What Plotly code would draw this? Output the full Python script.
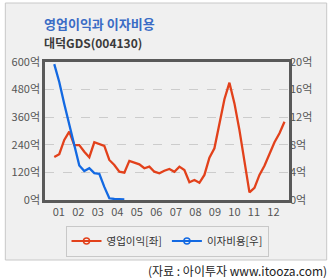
import plotly.graph_objects as go

# Quarterly data (2001 ~ 2012)
op_profit = [187, 199, 261, 297, 239, 239, 210, 186, 251, 243, 235, 174, 152, 123, 119, 170,
             162, 155, 138, 145, 123, 116, 127, 135, 123, 145, 130, 77, 87, 75, 109, 184,
             225, 333, 438, 510, 420, 304, 174, 33, 53, 109, 149, 199, 251, 290, 340]
interest = [19.7, 17.1, 13.9, 11.0, 8.3, 5.0, 4.2, 4.6, 3.9, 3.8, 1.9, 0.25, 0.15, 0.1, 0.1]
year_labels = ["01", "02", "03", "04", "05", "06", "07", "08", "09", "10", "11", "12"]
left_ticks = [0, 120, 240, 360, 480, 600]
right_ticks = [0, 4, 8, 12, 16, 20]

RED = "#e2411b"
BLUE = "#1369e2"
GRID = "#cccccc"
AX = "#595959"

xi_op = list(range(len(op_profit)))
xi_int = list(range(len(interest)))
tick_pos = [0.9 + 3.9 * k for k in range(len(year_labels))]

fig = go.Figure()
fig.add_trace(go.Scatter(x=xi_op, y=op_profit, mode="lines", line=dict(color=RED, width=2.3),
                         showlegend=False, yaxis="y"))
fig.add_trace(go.Scatter(x=xi_int, y=interest, mode="lines", line=dict(color=BLUE, width=2.3),
                         showlegend=False, yaxis="y2"))
# legend entries
fig.add_trace(go.Scatter(x=[None], y=[None], mode="lines+markers", name="영업이익[좌]",
                         line=dict(color=RED, width=2),
                         marker=dict(symbol="circle-open", size=6, color=RED, line=dict(width=1.5))))
fig.add_trace(go.Scatter(x=[None], y=[None], mode="lines+markers", name="이자비용[우]",
                         line=dict(color=BLUE, width=2),
                         marker=dict(symbol="circle-open", size=6, color=BLUE, line=dict(width=1.5))))

shapes = [
    # light gray panel
    dict(type="rect", xref="paper", yref="paper", x0=-40/246, x1=1+38/246, y0=-60/138, y1=1+59/138,
         fillcolor="#f0f0f0", line=dict(color="#c8c8c8", width=1), layer="below"),
    # alternating bands
    dict(type="rect", xref="paper", yref="y", x0=0, x1=1, y0=120, y1=240,
         fillcolor="#f0f0f0", line=dict(width=0), layer="below"),
    dict(type="rect", xref="paper", yref="y", x0=0, x1=1, y0=360, y1=480,
         fillcolor="#f0f0f0", line=dict(width=0), layer="below"),
]

fig.update_layout(
    width=331, height=278,
    margin=dict(l=43, r=42, t=62, b=78),
    paper_bgcolor="white", plot_bgcolor="white",
    font=dict(family="Noto Sans CJK KR, Noto Sans, sans-serif", size=11, color="#555555"),
    shapes=shapes,
    xaxis=dict(range=[-1.85, 46.9], tickvals=tick_pos, ticktext=year_labels, showgrid=False,
               showline=True, mirror=True, linecolor=AX, linewidth=2.5, ticks="", zeroline=False,
               tickfont=dict(size=11, color="#555555")),
    yaxis=dict(range=[0, 600], tickvals=left_ticks, ticktext=[f"{v}억" for v in left_ticks],
               showgrid=True, gridcolor=GRID, griddash="dash", gridwidth=1,
               showline=True, mirror=True, linecolor=AX, linewidth=2.5, zeroline=False,
               ticks="", tickfont=dict(size=11, color="#555555")),
    yaxis2=dict(range=[0, 20], tickvals=right_ticks, ticktext=[f"{v}억" for v in right_ticks],
                overlaying="y", side="right", showgrid=False, zeroline=False, ticks="",
                tickfont=dict(size=11, color="#555555")),
    legend=dict(orientation="h", x=0.5, xanchor="center", y=-0.185, yanchor="top",
                bgcolor="#f0f0f0", bordercolor="#c8c8c8", borderwidth=1,
                font=dict(size=10.5, color="#333333"), itemwidth=30),
    annotations=[
        dict(text="<b>영업이익과 이자비용</b>", xref="paper", yref="paper", x=-3/246, y=1+39/138,
             xanchor="left", yanchor="middle", showarrow=False,
             font=dict(size=13, color="#3a6cc5")),
        dict(text="<b>대덕GDS(004130)</b>", xref="paper", yref="paper", x=-3/246, y=1+20/138,
             xanchor="left", yanchor="middle", showarrow=False,
             font=dict(size=12, color="#3a3a3a")),
        dict(text="(자료 : 아이투자 www.itooza.com)", xref="paper", yref="paper", x=1+40/246,
             y=-70/138, xanchor="right", yanchor="middle", showarrow=False,
             font=dict(size=12, color="#222222")),
    ],
)

fig.write_html("out.html")
